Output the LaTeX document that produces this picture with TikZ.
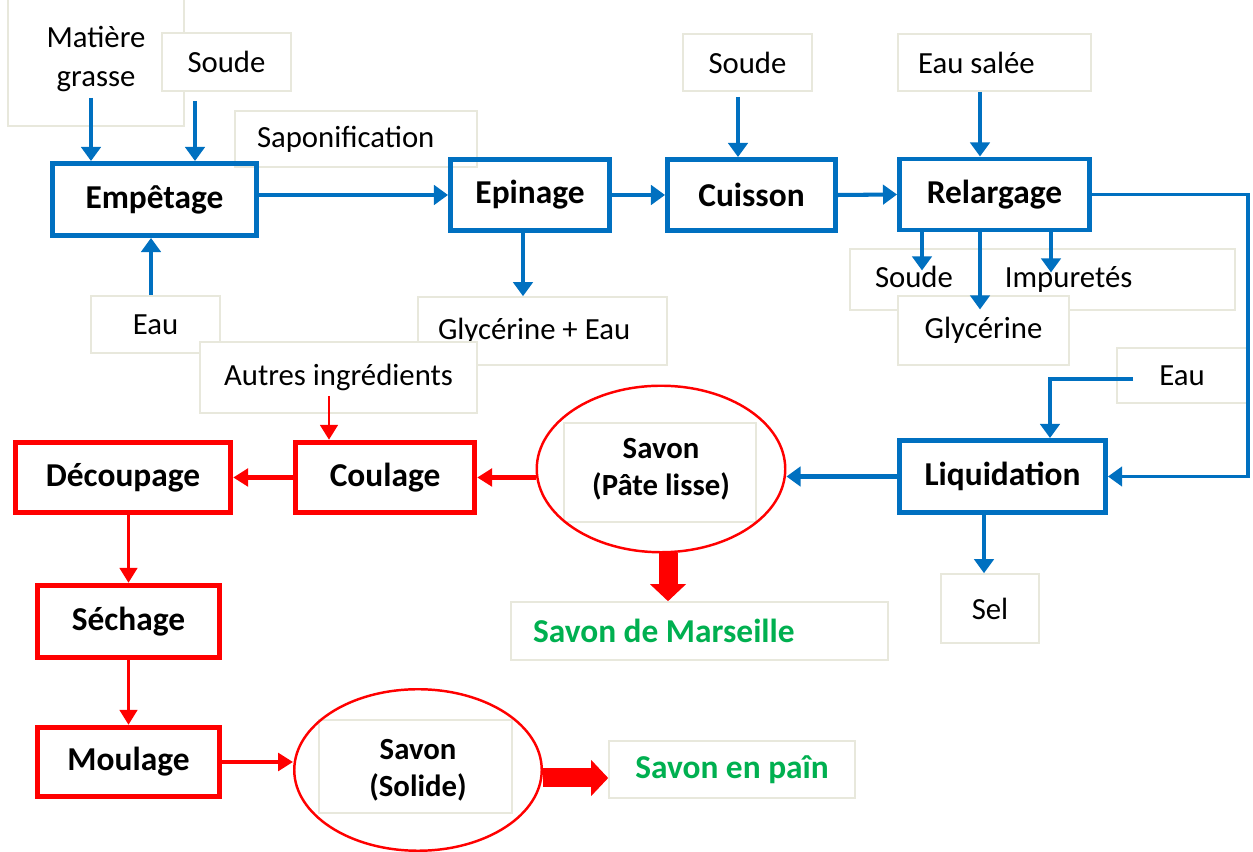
\documentclass[tikz,border=0pt]{standalone}
\usepackage{fontspec}
\setmainfont{Carlito}
\usepackage{tikz}
\usetikzlibrary{arrows.meta,shapes.geometric}
\definecolor{sblue}{RGB}{0,112,192}
\definecolor{sred}{RGB}{255,0,0}
\definecolor{sgreen}{RGB}{0,176,80}
\definecolor{sframe}{RGB}{232,232,220}

\begin{document}
\begin{tikzpicture}[
  every node/.style={font=\fontsize{17.5}{22}\selectfont},
  stagebox/.style={draw=sblue,line width=2.8pt,inner sep=0pt,minimum height=1.42cm,
                   font=\fontsize{19}{22}\selectfont\bfseries},
  endbox/.style={stagebox,draw=sred,line width=3.1pt},
  tagbox/.style={draw=sframe,fill=white,line width=0.9pt,inner sep=0pt,align=center},
  tagleft/.style={tagbox,align=flush left,inner xsep=0.42cm},
  prodbox/.style={tagbox,text=sgreen,font=\fontsize{19}{22}\selectfont\bfseries},
  soapring/.style={ellipse,draw=sred,line width=1.4pt,inner sep=0pt,align=center,
                   font=\fontsize{17.5}{21}\selectfont\bfseries},
  blueflow/.style={-{Triangle[width=11pt,length=8pt]},line width=2.3pt,sblue},
  redflow/.style={-{Triangle[width=10pt,length=8.5pt]},line width=1.7pt,sred},
  redflowb/.style={redflow,line width=2.8pt},
  bigflow/.style={-{Triangle[width=0.7cm,length=0.34cm]},line width=0.38cm,sred},
]
  \useasboundingbox (0,0) rectangle (25.06,17.04);

  % inputs and by-products
  \node[tagbox,minimum width=3.52cm,minimum height=2.68cm] (matiere) at (1.92,15.86) {Matière\\grasse};
  \node[tagbox,minimum width=2.58cm,minimum height=1.16cm] (soudea) at (4.53,15.80) {Soude};
  \node[tagleft,text width=3.96cm,inner xsep=0.44cm,minimum height=1.12cm] (sapon) at (7.12,14.26) {Saponification};
  \node[tagbox,minimum width=2.58cm,minimum height=1.14cm] (eaua) at (3.11,10.55) {Eau};
  \node[tagleft,text width=4.18cm,inner xsep=0.4cm,minimum height=1.36cm] (glyeau) at (10.85,10.42) {Glycérine + Eau};
  \node[tagbox,minimum width=2.58cm,minimum height=1.14cm] (soudeb) at (14.95,15.79) {Soude};
  \node[tagleft,text width=3.06cm,inner xsep=0.4cm,minimum height=1.14cm] (eausal) at (19.89,15.79) {Eau salée};
  \node[tagleft,text width=6.70cm,inner xsep=0.5cm,minimum height=1.22cm] (soudimp) at (20.85,11.45) {Soude\hspace{1.04cm}Impuretés};
  \node[tagbox,minimum width=3.42cm,minimum height=1.38cm] (glyc) at (19.67,10.43) {Glycérine};
  \node[tagbox,minimum width=2.60cm,minimum height=1.10cm] (eaub) at (23.64,9.53) {Eau};
  \node[tagbox,minimum width=5.54cm,minimum height=1.42cm] (autres) at (6.77,9.49) {Autres ingrédients};
  \node[tagbox,minimum width=1.96cm,minimum height=1.38cm] (sel) at (19.80,4.87) {Sel};
  \node[tagbox,minimum width=3.84cm,minimum height=1.98cm] (patebox) at (13.20,7.59) {};
  \node[tagbox,minimum width=3.86cm,minimum height=1.86cm] (solidebox) at (8.31,1.71) {};
  \node[prodbox,align=flush left,text width=6.66cm,inner xsep=0.44cm,minimum height=1.16cm] (marseille) at (13.99,4.42) {Savon de Marseille};
  \node[prodbox,minimum width=4.92cm,minimum height=1.14cm] (pain) at (14.64,1.65) {Savon en paîn};

  % boiling line
  \node[stagebox,minimum width=4.08cm,minimum height=1.44cm] (empetage) at (3.09,13.05) {Empêtage};
  \node[stagebox,minimum width=3.18cm] (epinage) at (10.60,13.14) {Epinage};
  \node[stagebox,minimum width=3.36cm] (cuisson) at (15.03,13.14) {Cuisson};
  \node[stagebox,minimum width=3.80cm] (relargage) at (19.89,13.15) {Relargage};
  \node[stagebox,minimum width=4.12cm,minimum height=1.44cm] (liquidation) at (20.05,7.51) {Liquidation};

  % finishing line
  \node[endbox,minimum width=3.58cm,minimum height=1.40cm] (coulage) at (7.70,7.49) {Coulage};
  \node[endbox,minimum width=4.30cm,minimum height=1.40cm] (decoupage) at (2.46,7.49) {Découpage};
  \node[endbox,minimum width=3.64cm,minimum height=1.44cm] (sechage) at (2.57,4.61) {Séchage};
  \node[endbox,minimum width=3.64cm,minimum height=1.38cm] (moulage) at (2.57,1.80) {Moulage};

  % soap stages
  \node[soapring,minimum width=4.97cm,minimum height=3.33cm] (pate) at (13.22,7.66) {Savon\\(Pâte lisse)};
  \node[soapring,minimum width=4.95cm,minimum height=3.23cm] (solide) at (8.36,1.64) {Savon\\(Solide)};

  % blue flows
  \coordinate (mgin) at ([xshift=-0.1cm,yshift=0.58cm]matiere.south);
  \coordinate (sain) at ([xshift=-0.63cm,yshift=-0.18cm]soudea.south);
  \coordinate (eain) at ([xshift=-0.09cm]eaua.north);
  \draw[blueflow] (mgin) -- (mgin |- empetage.north);
  \draw[blueflow] (sain) -- (sain |- empetage.north);
  \draw[blueflow] (eain) -- (eain |- empetage.south);
  \draw[blueflow] (empetage.east |- epinage.west) -- (epinage.west);

  \coordinate (glout) at ([xshift=-0.14cm]epinage.south);
  \draw[blueflow] (glout) -- (glout |- glyeau.north);
  \draw[blueflow] (epinage.east) -- (cuisson.west);

  \coordinate (sbin) at ([xshift=-0.19cm,yshift=-0.1cm]soudeb.south);
  \draw[blueflow] (sbin) -- (sbin |- cuisson.north);
  \draw[blueflow] (cuisson.east) -- (relargage.west);

  \coordinate (esin) at ([xshift=-0.29cm]eausal.south);
  \draw[blueflow] (esin) -- (esin |- relargage.north);
  \draw[blueflow] ([xshift=-1.45cm]relargage.south) -- ++(0,-0.76);
  \draw[blueflow] ([xshift=-0.29cm]relargage.south) -- ++(0,-1.54);
  \draw[blueflow] ([xshift=1.13cm]relargage.south) -- ++(0,-0.80);

  \coordinate (loopc) at (24.96,7.51);
  \draw[blueflow,line width=1.8pt] (relargage.east) -| (loopc) -- (liquidation.east);

  \coordinate (ebout) at ([xshift=0.34cm,yshift=-0.07cm]eaub.west);
  \draw[blueflow] (ebout) -| ([xshift=0.95cm]liquidation.north);
  \draw[blueflow] (liquidation.west) -- (liquidation.west -| pate.east);

  \coordinate (selin) at ([xshift=-0.37cm]liquidation.south);
  \draw[blueflow] (selin) -- (selin |- sel.north);

  % red flows
  \draw[redflowb] (coulage.east -| pate.west) -- (coulage.east);
  \coordinate (auin) at ([xshift=-0.19cm,yshift=0.36cm]autres.south);
  \draw[redflow] (auin) -- (auin |- coulage.north);
  \draw[redflowb] (coulage.west) -- (decoupage.east);
  \draw[redflow] (decoupage.south -| sechage.north) -- (sechage.north);
  \draw[redflow] (sechage.south) -- (moulage.north);
  \draw[redflowb] (moulage.east) -- (moulage.east -| solide.west);

  % finished products
  \coordinate (patefoot) at ([xshift=0.14cm]pate.south);
  \draw[bigflow] (patefoot) -- (patefoot |- marseille.north);
  \coordinate (solfoot) at ([yshift=-0.16cm]solide.east);
  \draw[bigflow] (solfoot) -- (solfoot -| pain.west);
\end{tikzpicture}
\end{document}
